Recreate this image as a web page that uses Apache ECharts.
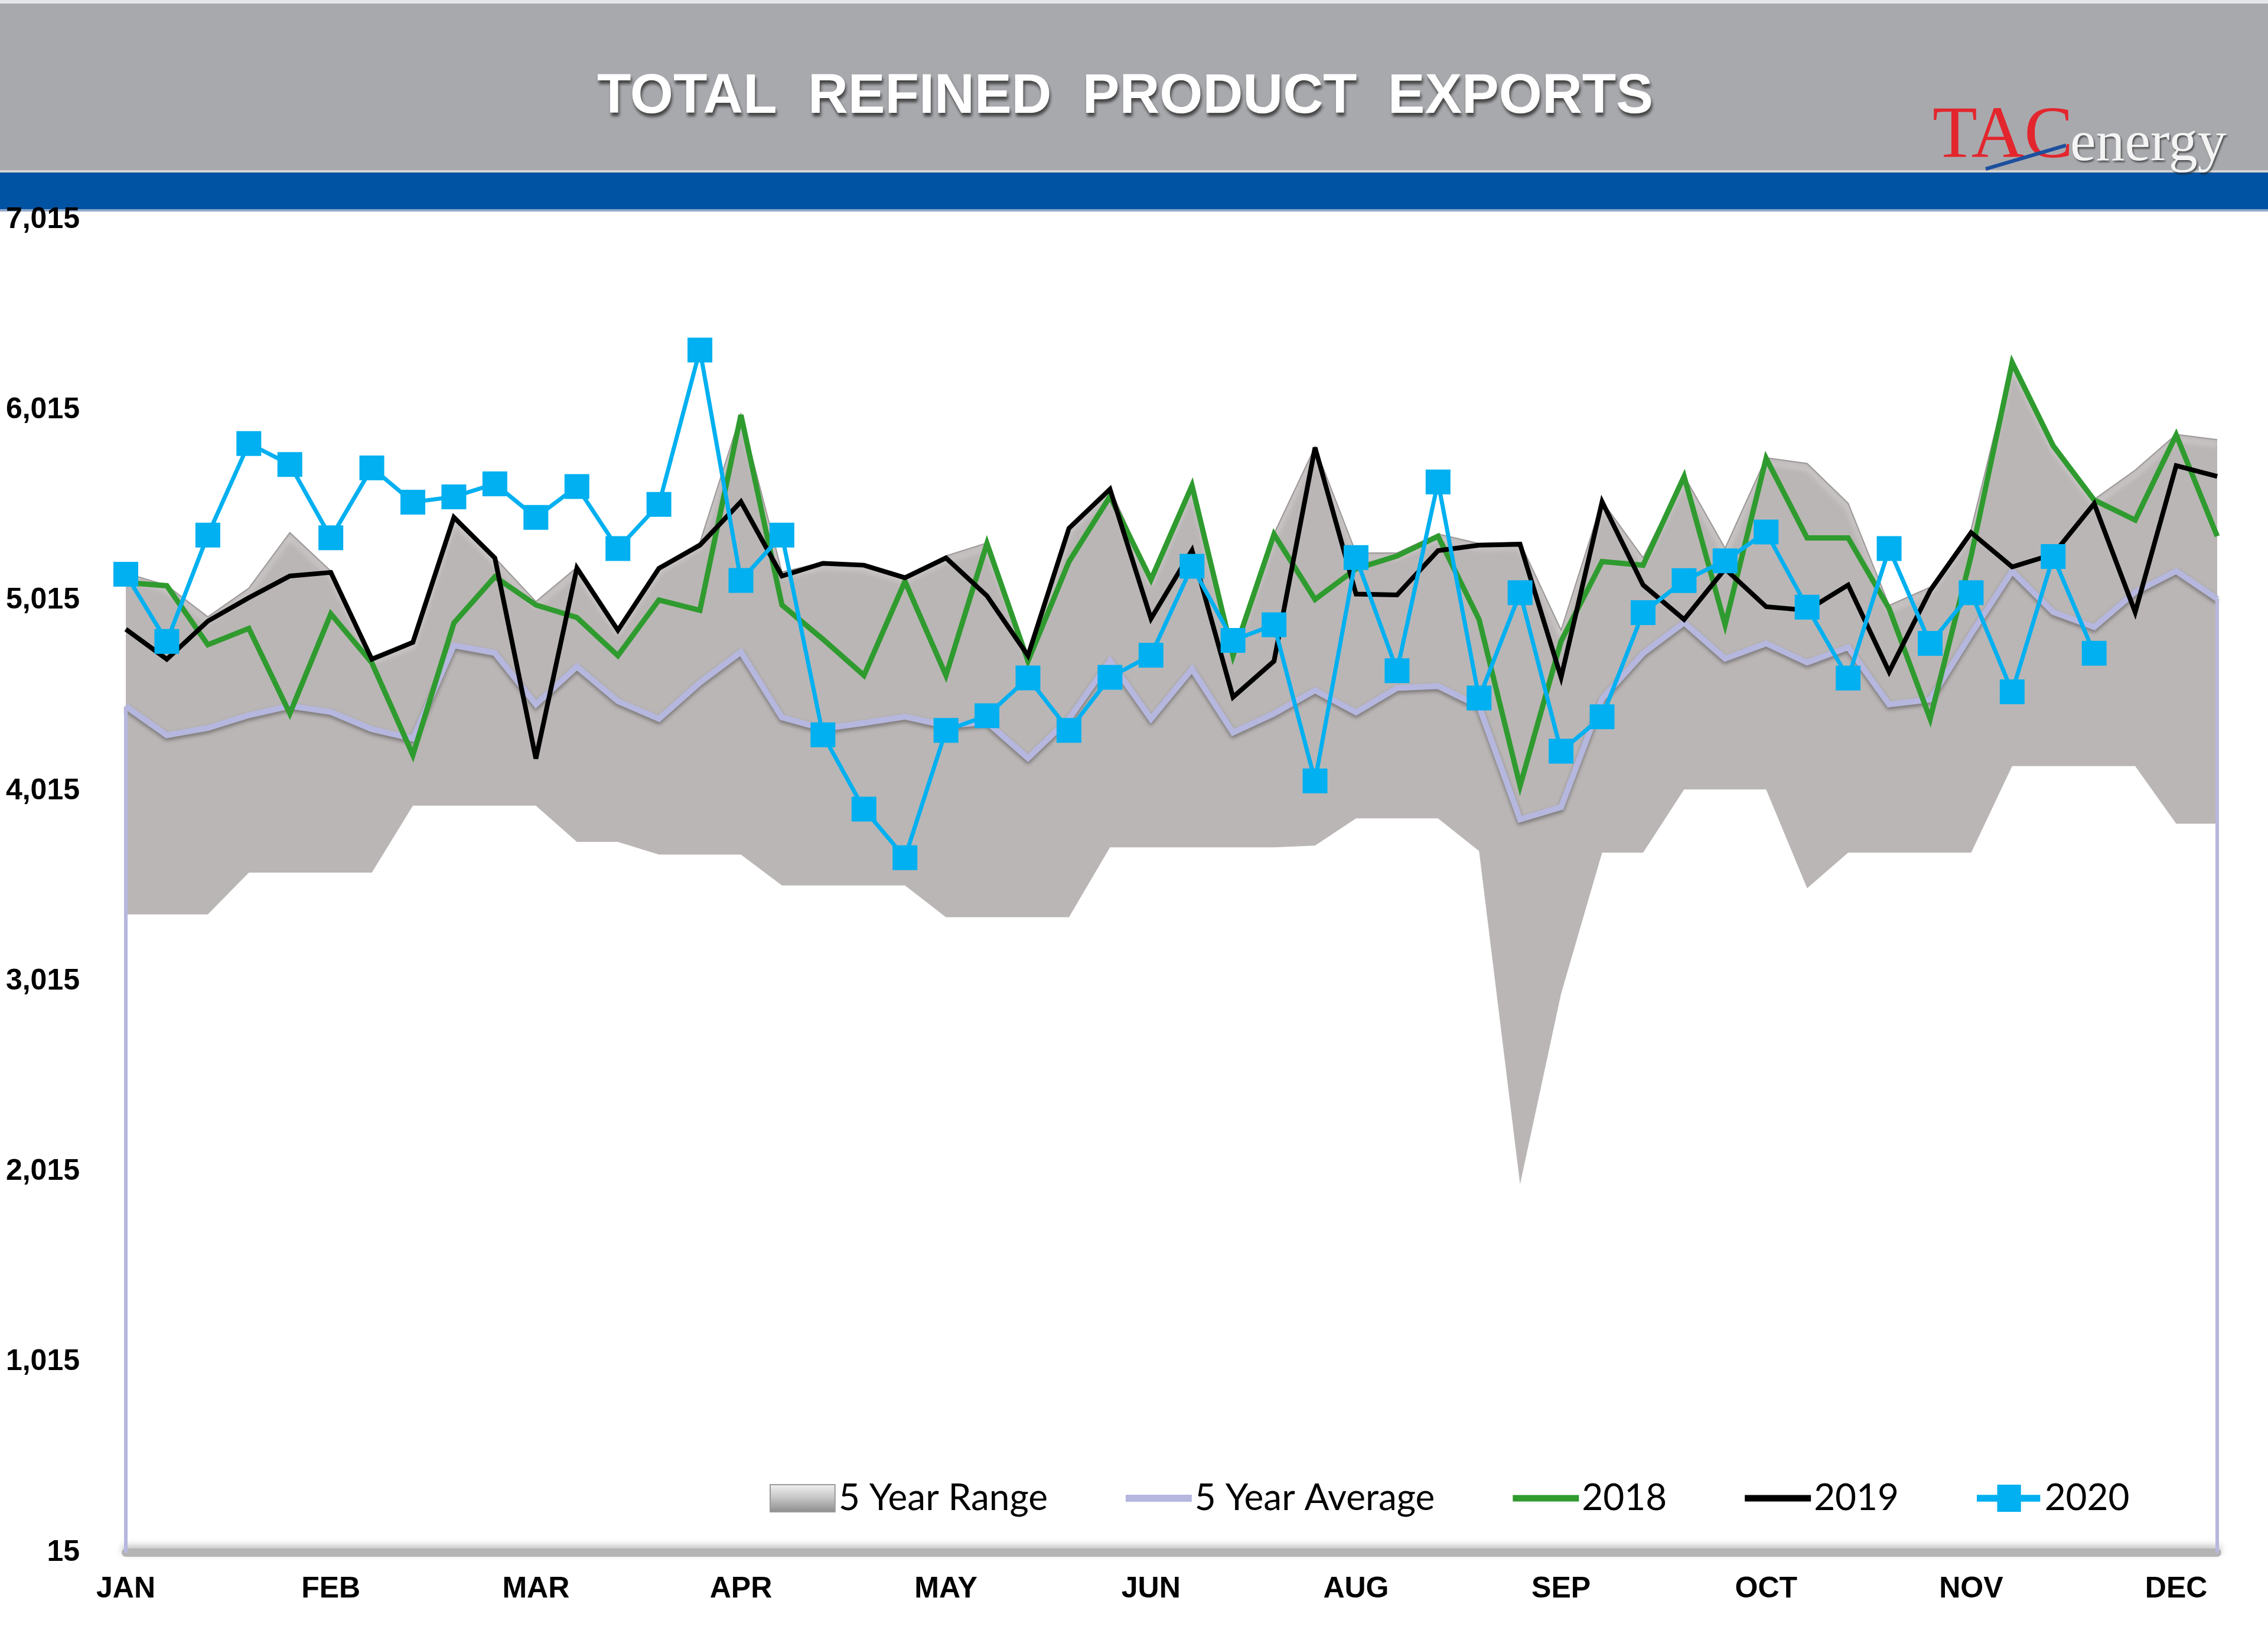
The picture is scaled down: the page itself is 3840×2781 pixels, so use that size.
<!DOCTYPE html>
<html>
<head>
<meta charset="utf-8">
<script src="https://cdn.jsdelivr.net/npm/echarts@6/dist/echarts.min.js"></script>
<style>
html,body{margin:0;padding:0;background:#ffffff;}
#chart{width:3840px;height:2781px;}
</style>
</head>
<body>
<div id="chart"></div>
<script>
// ---- data (weekly, 52 weeks) ----
var weeks = [];
for (var w = 1; w <= 52; w++) weeks.push('W' + w);
var monthLabels = ['JAN','FEB','MAR','APR','MAY','JUN','AUG','SEP','OCT','NOV','DEC'];
var yTicks = [15, 1015, 2015, 3015, 4015, 5015, 6015, 7015];

var rangeMin = [3367,3367,3367,3586,3586,3586,3586,3938,3938,3938,3938,3748,3748,3681,3681,3681,3519,3519,3519,3519,3352,3352,3352,3352,3719,3719,3719,3719,3719,3728,3871,3871,3871,3700,1950,2950,3691,3691,4023,4023,4023,3504,3691,3691,3691,3691,4146,4146,4146,4146,3843,3843];
var rangeMax = [5160,5095,4930,5080,5372,5170,4720,4800,5455,5240,5010,5190,4870,5190,5320,5995,5165,5215,5205,5140,5250,5318,4730,5400,5605,5130,5622,4760,5366,5822,5265,5265,5365,5315,5320,4860,5537,5240,5670,5290,5765,5735,5526,4990,5085,5390,6268,5830,5546,5700,5888,5860];
var avg5 = [4460,4308,4346,4413,4462,4430,4340,4290,4780,4740,4470,4668,4487,4394,4585,4745,4402,4342,4372,4405,4358,4377,4188,4395,4700,4394,4656,4322,4422,4544,4428,4556,4566,4460,3866,3930,4500,4738,4900,4710,4790,4690,4770,4470,4495,4840,5170,4955,4876,5060,5170,5024];
var y2018 = [5110,5093,4783,4869,4422,4945,4688,4204,4897,5140,4992,4926,4726,5018,4964,5990,4992,4812,4622,5116,4622,5315,4697,5220,5562,5125,5619,4726,5363,5021,5182,5249,5353,4916,4042,4802,5220,5201,5667,4888,5762,5344,5344,4973,4394,5250,6265,5828,5543,5438,5885,5353];
var y2019 = [4865,4707,4907,5030,5144,5163,4707,4796,5452,5239,4185,5186,4859,5184,5306,5534,5144,5211,5201,5135,5239,5040,4726,5395,5600,4920,5279,4508,4697,5819,5049,5045,5277,5306,5311,4612,5534,5097,4916,5182,4983,4964,5097,4641,5068,5372,5192,5258,5524,4954,5724,5667];
var y2020 = [5153,4800,5359,5840,5730,5345,5712,5532,5560,5628,5452,5614,5288,5520,6331,5121,5359,4310,3920,3665,4333,4410,4609,4333,4612,4728,5195,4806,4888,4068,5241,4647,5638,4503,5056,4224,4405,4952,5120,5224,5375,4980,4608,5288,4790,5056,4536,5246,4738];

var rangeBand = rangeMax.map(function (v, i) { return v - rangeMin[i]; });

var chart = echarts.init(document.getElementById('chart'), null, {renderer: 'canvas'});

var axisFont = '"Liberation Sans", Arial, sans-serif';

var option = {
  animation: false,
  backgroundColor: '#ffffff',
  grid: {left: 213, right: 86, top: 372, bottom: 153, containLabel: false},
  graphic: [
    {type: 'rect', shape: {x: 0, y: 0, width: 3840, height: 6}, style: {fill: '#e6e6e8'}, z: 0},
    {type: 'rect', shape: {x: 0, y: 6, width: 3840, height: 282}, style: {fill: '#a8a9ad'}, z: 0},
    {type: 'rect', shape: {x: 0, y: 288, width: 3840, height: 4}, style: {fill: '#d6d4d2'}, z: 0},
    {type: 'rect', shape: {x: 0, y: 292, width: 3840, height: 62}, style: {fill: '#0052a2'}, z: 0},
    {type: 'rect', shape: {x: 0, y: 354, width: 3840, height: 4}, style: {fill: '#8fa8cc'}, z: 0},
    {type: 'text', x: 1905, y: 165, z: 5,
      style: {text: 'TOTAL  REFINED  PRODUCT  EXPORTS', fill: '#ffffff',
        font: 'bold 94px "Liberation Sans", Arial, sans-serif',
        textAlign: 'center', textVerticalAlign: 'middle',
        textShadowColor: 'rgba(50,50,50,0.85)', textShadowBlur: 5, textShadowOffsetX: 2, textShadowOffsetY: 6}},
    {type: 'text', x: 3272, y: 295, z: 5,
      style: {text: 'TAC', fill: '#e3262d',
        font: '124px "Liberation Serif", "Times New Roman", serif',
        textAlign: 'left', textVerticalAlign: 'bottom'}},
    {type: 'line', z: 6, shape: {x1: 3362, y1: 286, x2: 3498, y2: 246},
      style: {stroke: '#1d4f9e', lineWidth: 6}},
    {type: 'text', x: 3505, y: 294, z: 5,
      style: {text: 'energy', fill: '#f4f4f4',
        font: '98px "Liberation Serif", "Times New Roman", serif',
        textAlign: 'left', textVerticalAlign: 'bottom',
        textShadowColor: 'rgba(40,40,40,0.7)', textShadowBlur: 3, textShadowOffsetX: 2, textShadowOffsetY: 3}}
  ],
  legend: {
    left: 1298, top: 2500,
    itemWidth: 112, itemHeight: 46, itemGap: 132,
    textStyle: {fontFamily: 'Lato, "Open Sans", sans-serif', fontSize: 62, color: '#000000'},
    itemStyle: {borderWidth: 0},
    selectedMode: false,
    data: [
      {name: '5 Year Range', icon: 'path://M0,0H105V44H0Z',
        itemStyle: {color: new echarts.graphic.LinearGradient(0, 0, 0, 1, [
          {offset: 0, color: '#f2f2f2'}, {offset: 0.5, color: '#c4c4c4'}, {offset: 1, color: '#8c8c8c'}]),
          borderColor: '#9a9a9a', borderWidth: 2}},
      {name: '5 Year Average', icon: 'path://M0,0H112V12H0Z', itemStyle: {color: '#b6b7de', borderWidth: 0}},
      {name: '2018', icon: 'path://M0,0H112V11H0Z', itemStyle: {color: '#2f9b2f', borderWidth: 0}},
      {name: '2019', icon: 'path://M0,0H112V11H0Z', itemStyle: {color: '#000000', borderWidth: 0}},
      {name: '2020', icon: 'path://M0,18H36V0H78V18H112V30H78V48H36V30H0Z', itemStyle: {color: '#00b0f0', borderWidth: 0}}
    ]
  },
  xAxis: {
    type: 'category',
    data: weeks,
    boundaryGap: false,
    axisLine: {show: true, lineStyle: {color: '#b4b4b4', width: 14,
      shadowColor: 'rgba(0,0,0,0.25)', shadowBlur: 12, shadowOffsetY: -5}},
    axisTick: {show: false},
    splitLine: {show: false},
    axisLabel: {
      interval: 0, margin: 37,
      fontFamily: axisFont, fontSize: 50, fontWeight: 'bold', color: '#000000',
      formatter: function (val, idx) { return idx % 5 === 0 ? (monthLabels[idx / 5] || '') : ''; }
    }
  },
  yAxis: {
    type: 'value',
    min: yTicks[0], max: yTicks[yTicks.length - 1], interval: 1000,
    axisLine: {show: false}, axisTick: {show: false}, splitLine: {show: false},
    axisLabel: {
      margin: 78, padding: [16, 0, 0, 0], fontFamily: axisFont, fontSize: 50, fontWeight: 'bold', color: '#000000',
      formatter: function (v) { return Math.round(v).toLocaleString('en-US'); }
    }
  },
  series: [
    {name: 'rangeMin', type: 'line', stack: 'range', data: rangeMin, symbol: 'none',
      lineStyle: {opacity: 0, width: 0}, silent: true, z: 1},
    {name: '5 Year Range', type: 'line', stack: 'range', data: rangeBand, symbol: 'none', z: 1,
      itemStyle: {color: '#bab6b5'},
      lineStyle: {color: '#9d9898', width: 2, join: 'miter', miterLimit: 4,
        shadowColor: 'rgba(255,255,255,0.95)', shadowBlur: 10, shadowOffsetY: 8},
      areaStyle: {color: '#bab6b5', opacity: 1}},
    {name: '5 Year Average', type: 'line', data: avg5, symbol: 'none', z: 3,
      itemStyle: {color: '#b6b7de'},
      lineStyle: {color: '#b6b7de', width: 10, join: 'miter', miterLimit: 4,
        shadowColor: 'rgba(0,0,0,0.35)', shadowBlur: 6, shadowOffsetY: 4},
      markLine: {
        silent: true, symbol: ['none', 'none'], label: {show: false},
        lineStyle: {color: '#b6b7de', width: 6, type: 'solid'},
        data: [
          [{coord: [weeks[0], yTicks[0]]}, {coord: [weeks[0], avg5[0]]}],
          [{coord: [weeks[51], yTicks[0]]}, {coord: [weeks[51], avg5[51]]}]
        ]
      }},
    {name: '2018', type: 'line', data: y2018, symbol: 'none', z: 4,
      itemStyle: {color: '#2f9b2f'},
      lineStyle: {color: '#2f9b2f', width: 9, join: 'miter', miterLimit: 4}},
    {name: '2019', type: 'line', data: y2019, symbol: 'none', z: 5,
      itemStyle: {color: '#000000'},
      lineStyle: {color: '#000000', width: 8, join: 'miter', miterLimit: 4}},
    {name: '2020', type: 'line', data: y2020, symbol: 'rect', symbolSize: 42, showSymbol: true, showAllSymbol: true, z: 6,
      itemStyle: {color: '#00b0f0'},
      lineStyle: {color: '#00b0f0', width: 7, join: 'miter', miterLimit: 4}}
  ]
};
chart.setOption(option);
</script>
</body>
</html>
